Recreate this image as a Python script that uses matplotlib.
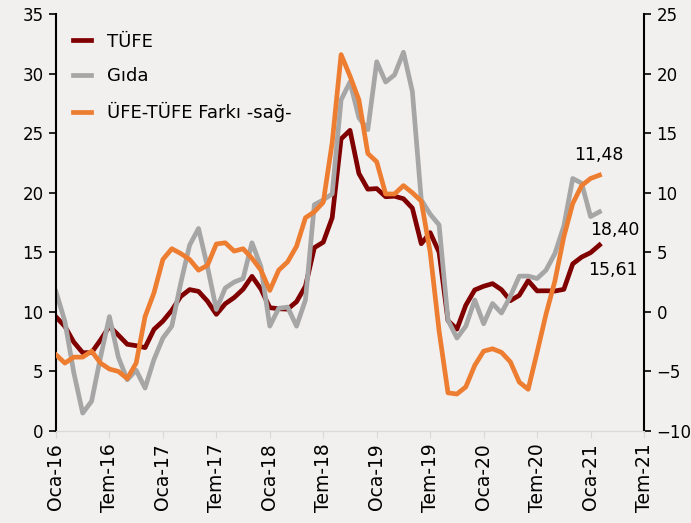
import numpy as np
import matplotlib
matplotlib.use('Agg')
from matplotlib import pyplot as plt

# /////////////////////////
# >>> Data (yillik %, Oca-16 .. Sub-21)
# /////////////////////////
tufe = [9.58, 8.78, 7.46, 6.57, 6.58, 7.64, 8.79, 8.05, 7.28, 7.16, 7.00, 8.53,
        9.22, 10.13, 11.29, 11.87, 11.72, 10.90, 9.79, 10.68, 11.20, 11.90, 12.98, 11.92,
        10.35, 10.26, 10.23, 10.85, 12.15, 15.39, 15.85, 17.90, 24.52, 25.24, 21.62, 20.30,
        20.35, 19.67, 19.71, 19.50, 18.71, 15.72, 16.65, 15.01, 9.26, 8.55, 10.56, 11.84,
        12.15, 12.37, 11.86, 10.94, 11.39, 12.62, 11.76, 11.77, 11.75, 11.89, 14.03, 14.60,
        14.97, 15.61]

gida = [11.7, 9.2, 4.9, 1.5, 2.5, 6.2, 9.6, 6.2, 4.3, 5.1, 3.6, 6.0,
        7.8, 8.8, 12.4, 15.6, 17.0, 13.8, 10.2, 12.0, 12.5, 12.8, 15.8, 13.8,
        8.8, 10.3, 10.4, 8.8, 11.0, 19.0, 19.4, 19.9, 27.8, 29.3, 26.3, 25.3,
        31.0, 29.3, 29.9, 31.8, 28.5, 19.4, 18.2, 17.3, 9.3, 7.8, 8.8, 11.0,
        9.0, 10.7, 9.9, 11.3, 13.0, 13.0, 12.8, 13.5, 14.9, 17.2, 21.2, 20.8,
        18.0, 18.4]

fark = [-3.6, -4.3, -3.8, -3.8, -3.3, -4.3, -4.8, -5.0, -5.6, -4.3, -0.4, 1.6,
        4.4, 5.3, 4.9, 4.4, 3.5, 3.9, 5.7, 5.8, 5.1, 5.3, 4.5, 3.5,
        1.8, 3.5, 4.2, 5.5, 7.9, 8.4, 9.2, 14.2, 21.6, 19.8, 17.8, 13.3,
        12.6, 9.9, 9.9, 10.6, 10.0, 9.3, 5.0, -1.6, -6.8, -6.9, -6.3, -4.5,
        -3.3, -3.1, -3.4, -4.2, -5.9, -6.5, -3.4, -0.2, 2.6, 6.3, 9.1, 10.6,
        11.2, 11.48]

tick_labels = ['Oca-16', 'Tem-16', 'Oca-17', 'Tem-17', 'Oca-18', 'Tem-18',
               'Oca-19', 'Tem-19', 'Oca-20', 'Tem-20', 'Oca-21', 'Tem-21']

BG = '#F2F0EF'
C_TUFE = '#800000'
C_GIDA = '#A6A6A6'
C_FARK = '#ED7D31'
LW = 3.4

plt.rcParams['font.family'] = ['DejaVu Sans']
plt.rcParams['font.size'] = 11.5

fig = plt.figure(figsize=(6.91, 5.23), dpi=100, facecolor=BG)
ax = fig.add_subplot(111)
fig.subplots_adjust(left=0.081, right=0.932, top=0.973, bottom=0.176)
ax.set_facecolor(BG)

months = np.arange(len(tufe))
l1, = ax.plot(months, tufe, color=C_TUFE, lw=LW, label='TÜFE', solid_joinstyle='round')
l2, = ax.plot(months, gida, color=C_GIDA, lw=LW, label='Gıda', solid_joinstyle='round')

ax2 = ax.twinx()
l3, = ax2.plot(months, fark, color=C_FARK, lw=LW, label='ÜFE-TÜFE Farkı -sağ-',
               solid_joinstyle='round')

# /////////////////////////
# >>> Axes
# /////////////////////////
ax.set_xlim(0, 66)
ax.set_ylim(0, 35)
ax2.set_ylim(-10, 25)
ax.set_yticks(np.arange(0, 36, 5))
ax2.set_yticks(np.arange(-10, 26, 5))
ax.set_xticks(np.arange(0, 67, 6))
ax.set_xticklabels(tick_labels, rotation=90, fontsize=13.5)

for a in (ax, ax2):
    a.spines['top'].set_visible(False)
    a.spines['bottom'].set_color('#D9D9D9')
ax.spines['right'].set_visible(False)
ax2.spines['left'].set_visible(False)
ax.spines['left'].set_linewidth(1.5)
ax2.spines['right'].set_linewidth(1.5)
ax.tick_params(axis='y', length=5, width=1.2, pad=4, labelsize=12)
ax2.tick_params(axis='y', length=5, width=1.2, pad=4, labelsize=12)
ax.tick_params(axis='x', length=5, color='#D9D9D9', pad=4)

# /////////////////////////
# >>> Legend and labels
# /////////////////////////
leg = ax.legend(handles=[l1, l2, l3], loc='upper left', frameon=False,
                handlelength=1.0, handletextpad=0.9, fontsize=13,
                bbox_to_anchor=(0.0, 0.997), borderaxespad=0.55,
                labelspacing=0.92)

ax.text(60.9, 23.2, '11,48', ha='center', va='center', fontsize=12.5)
ax.text(62.7, 16.9, '18,40', ha='center', va='center', fontsize=12.5)
ax.text(62.5, 13.5, '15,61', ha='center', va='center', fontsize=12.5)

plt.savefig('out.png', dpi=100, facecolor=BG)
